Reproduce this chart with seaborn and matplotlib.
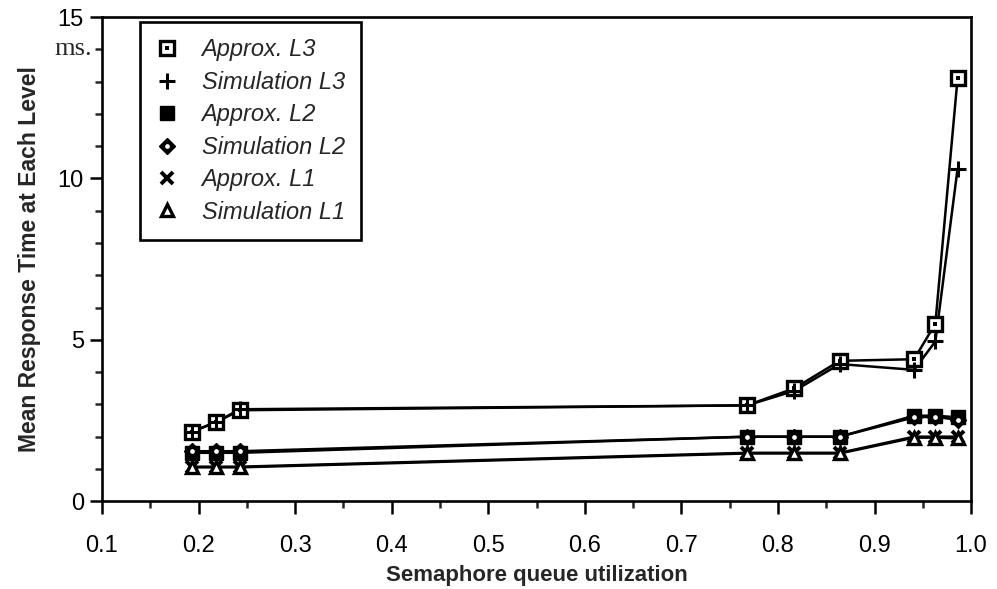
import matplotlib
matplotlib.use("Agg")
import matplotlib.pyplot as plt
import seaborn as sns
import pandas as pd
from matplotlib.lines import Line2D
from matplotlib.ticker import MultipleLocator

# ---- data ----
utilization = [0.193, 0.218, 0.243, 0.768, 0.817, 0.864, 0.941, 0.963, 0.986]
approx_l3 = [2.15, 2.45, 2.82, 2.97, 3.50, 4.35, 4.40, 5.50, 13.10]
sim_l3 = [2.15, 2.45, 2.85, 2.97, 3.42, 4.25, 4.07, 4.95, 10.30]
approx_l2 = [1.50, 1.50, 1.50, 2.00, 2.00, 2.00, 2.65, 2.65, 2.60]
sim_l2 = [1.55, 1.55, 1.55, 2.00, 2.00, 2.00, 2.60, 2.62, 2.52]
approx_l1 = [1.07, 1.07, 1.07, 1.50, 1.50, 1.50, 2.00, 2.00, 2.00]
sim_l1 = [1.05, 1.05, 1.05, 1.48, 1.48, 1.48, 1.97, 1.97, 1.95]
series_names = ["Approx. L3", "Simulation L3", "Approx. L2",
                "Simulation L2", "Approx. L1", "Simulation L1"]
x_ticks = [0.1, 0.2, 0.3, 0.4, 0.5, 0.6, 0.7, 0.8, 0.9, 1.0]
y_ticks = [0, 5, 10, 15]

sns.set_style("ticks")
plt.rcParams["font.family"] = ["Liberation Sans", "DejaVu Sans"]

fig = plt.figure(figsize=(9.97, 5.89), dpi=100)
ax = fig.add_axes([0.1023, 0.149, 0.8717, 0.822])

values = [approx_l3, sim_l3, approx_l2, sim_l2, approx_l1, sim_l1]
df = pd.DataFrame({"u": utilization * 6,
                   "t": sum(values, []),
                   "series": sum([[n] * len(utilization) for n in series_names], [])})

styles = {
    "Approx. L3": [dict(marker="s", markersize=9.5, markerfacecolor="white", markeredgecolor="black", markeredgewidth=2.4),
                   dict(marker="s", markersize=2.4, markerfacecolor="black", markeredgecolor="black", markeredgewidth=0)],
    "Simulation L3": [dict(marker="+", markersize=12, markeredgecolor="black", markeredgewidth=2.2)],
    "Approx. L2": [dict(marker="s", markersize=9.5, markerfacecolor="black", markeredgecolor="black", markeredgewidth=1)],
    "Simulation L2": [dict(marker="D", markersize=8, markerfacecolor="black", markeredgecolor="black", markeredgewidth=1),
                      dict(marker="o", markersize=3.4, markerfacecolor="white", markeredgecolor="white", markeredgewidth=0)],
    "Approx. L1": [dict(marker="x", markersize=8.5, markeredgecolor="black", markeredgewidth=2.8)],
    "Simulation L1": [dict(marker="^", markersize=8.5, markerfacecolor="white", markeredgecolor="black", markeredgewidth=2.4)],
}

legend_handles = []
for name in series_names:
    sub = df[df["series"] == name]
    sns.lineplot(data=sub, x="u", y="t", ax=ax, color="black", linewidth=1.8,
                 estimator=None, sort=False, legend=False, zorder=2)
    hs = []
    for k, st in enumerate(styles[name]):
        sns.lineplot(data=sub, x="u", y="t", ax=ax, color="black", linestyle="none",
                     estimator=None, sort=False, legend=False, zorder=3 + k, **st)
        hs.append(Line2D([], [], linestyle="none", color="black", **st))
    legend_handles.append(tuple(hs))

ax.set_xlim(0.1, 1.0)
ax.set_ylim(0, 15)
ax.set_xticks(x_ticks)
ax.set_xticklabels([f"{v:.1f}" for v in x_ticks])
ax.set_yticks(y_ticks)
ax.xaxis.set_minor_locator(MultipleLocator(0.05))
ax.yaxis.set_minor_locator(MultipleLocator(1))
ax.tick_params(axis="both", which="major", direction="out", length=9, width=1.8,
               labelsize=17, colors="black", pad=4)
ax.tick_params(axis="both", which="minor", direction="out", length=5, width=1.8)
ax.tick_params(axis="x", which="major", pad=15)

for sp in ax.spines.values():
    sp.set_visible(True)
    sp.set_linewidth(1.9)
    sp.set_color("black")

ax.set_xlabel("Semaphore queue utilization", fontsize=16, fontweight="bold", labelpad=6)
ax.set_ylabel("Mean Response Time at Each Level", fontsize=16.5, fontweight="bold", labelpad=12)

ax.text(-0.012, 14, "ms.", transform=ax.get_yaxis_transform(), ha="right", va="center",
        fontsize=19, family=["Liberation Serif", "DejaVu Serif"])

leg = ax.legend(legend_handles, series_names, loc="upper left",
                bbox_to_anchor=(0.044, 0.99), frameon=True, fancybox=False,
                prop={"style": "italic", "size": 17},
                handlelength=0.9, handletextpad=1.0, labelspacing=0.4,
                borderpad=0.7, borderaxespad=0)
leg.get_frame().set_edgecolor("black")
leg.get_frame().set_linewidth(1.9)
leg.get_frame().set_alpha(1)

fig.savefig("out.png", dpi=100)
